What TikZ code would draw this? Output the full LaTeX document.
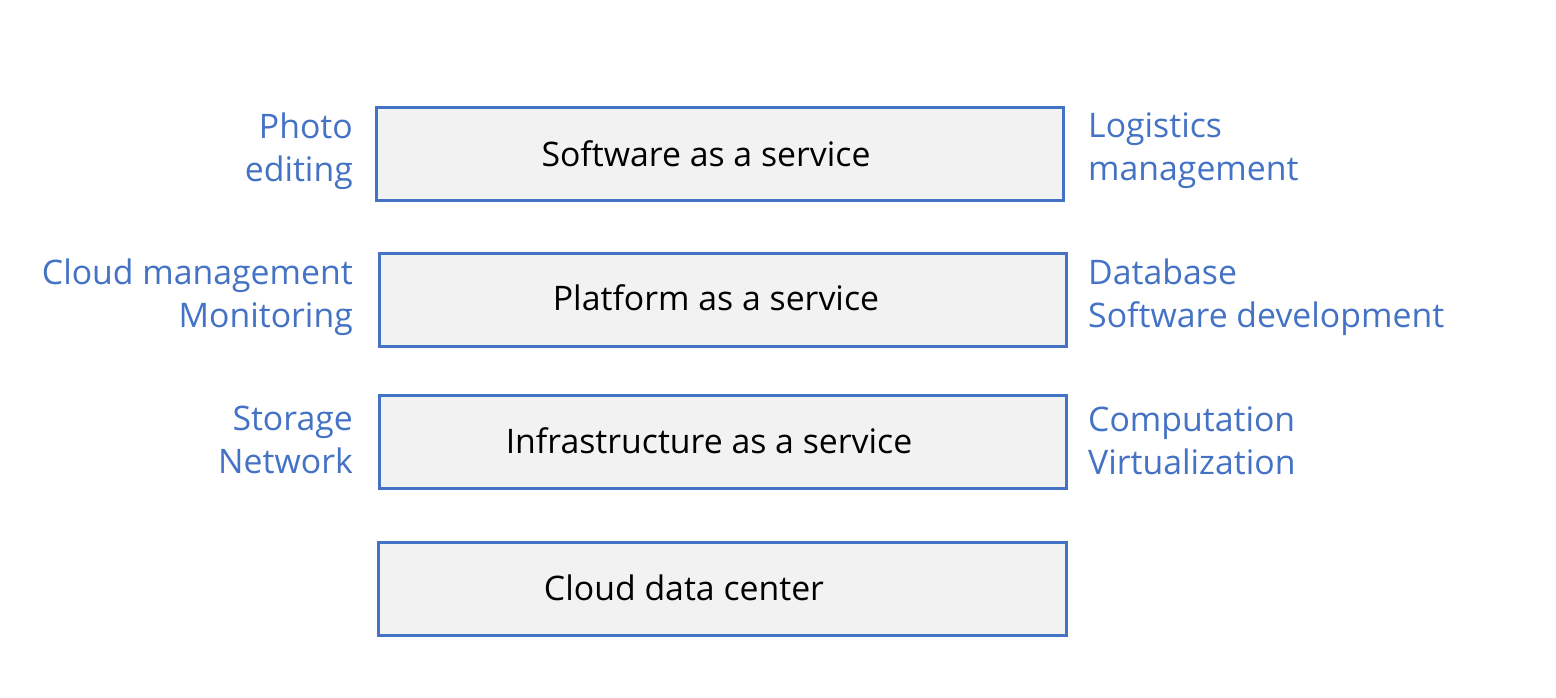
\documentclass[tikz,border=0pt]{standalone}
\usepackage{fontspec}
\setmainfont{Open Sans}
\definecolor{bordblue}{HTML}{4472C4}
\definecolor{boxfill}{HTML}{F2F2F2}
\tikzset{
  layer/.style={draw=bordblue, line width=3pt, fill=boxfill},
  boxtext/.style={font=\fontsize{33.8}{36}\selectfont, text=black, inner sep=0pt},
  lefttext/.style={font=\fontsize{33.8}{43}\selectfont, text=bordblue, align=right, anchor=east, inner sep=0pt},
  righttext/.style={font=\fontsize{33.8}{43}\selectfont, text=bordblue, align=left, anchor=west, inner sep=0pt}
}
\begin{document}
\begin{tikzpicture}[x=1pt,y=-1pt]
\useasboundingbox (0,0) rectangle (1556,698);
\fill[white] (0,0) rectangle (1556,698);
\draw[layer] (376,108) rectangle (1063,200);
\draw[layer] (379,253) rectangle (1066,346);
\draw[layer] (379,395) rectangle (1066,488);
\draw[layer] (378,542) rectangle (1066,635);
\node[boxtext] (saas) at (706,154) {Software as a service};
\node[boxtext] (paas) at (716,298) {Platform as a service};
\node[boxtext] (iaas) at (709,441) {Infrastructure as a service};
\node[boxtext] (dc) at (684,588) {Cloud data center};
\node[lefttext] (l1) at (353,151) {Photo\\editing};
\node[lefttext] (l2) at (353,297) {Cloud management\\Monitoring};
\node[lefttext] (l3) at (353,440) {Storage\\Network};
\node[righttext] (r1) at (1088,151) {Logistics\\management};
\node[righttext] (r2) at (1088,297) {Database\\Software development};
\node[righttext] (r3) at (1088,441) {Computation\\Virtualization};
\end{tikzpicture}
\end{document}
